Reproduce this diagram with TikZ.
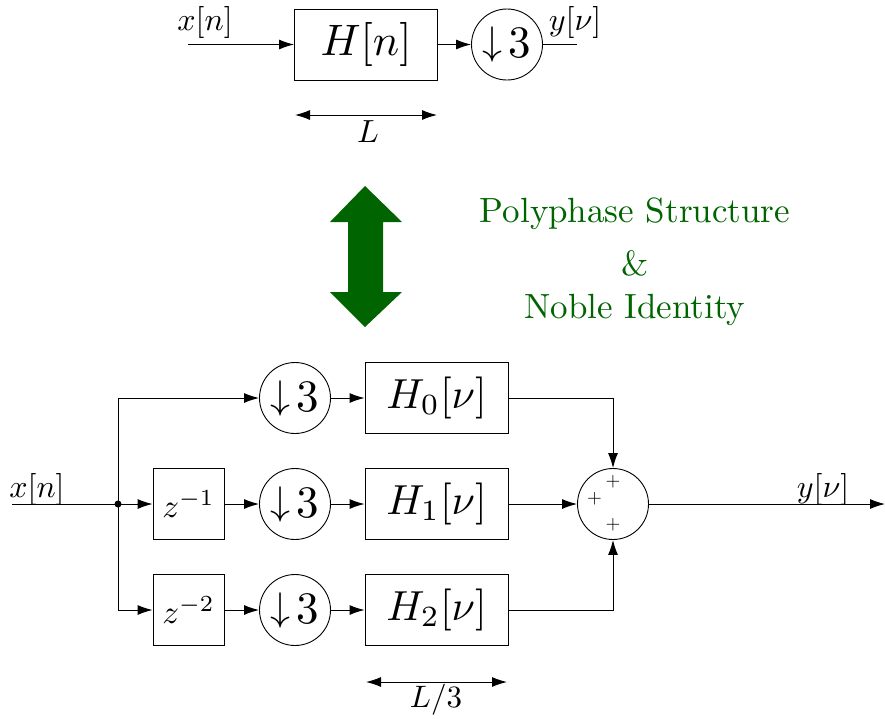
\documentclass[tikz,border=0pt]{standalone}
\usetikzlibrary{arrows.meta}
\definecolor{dkgreen}{RGB}{0,100,0}
\newcommand\sz[2]{\pgfmathsetmacro\szfac{#1/10}\scalebox{\szfac}{\fontsize{10}{12}\selectfont #2}}
\newcommand\dthree{\raisebox{3pt}{\sz{40}{$\downarrow$}}\hspace{6pt}\sz{45}{3}}
\begin{document}
\begin{tikzpicture}[x=1pt,y=-1pt, line width=1pt,
 >={Latex[length=15pt,width=10pt]},
 blk/.style={draw, rectangle, inner sep=0pt, line width=0.9pt},
 dwn/.style={draw, circle, minimum size=71pt, inner sep=0pt, line width=0.9pt},
 lbl/.style={anchor=base, inner sep=0pt}]
\useasboundingbox (0,0) rectangle (885,718);

% ---------- top structure
\node[blk, minimum width=143pt, minimum height=71pt] (H) at (366,44.5) {\sz{44}{$H[n]$}};
\node[dwn] (D) at (507,44.5) {\dthree};
\coordinate (in0) at (188,44.5);
\coordinate (out0) at (577,44.5);
\draw[->] (in0) -- (H);
\draw[->] (H) -- (D);
\draw (D) -- (out0);
\node[lbl] (xl0) at (205,30) {\sz{32}{$x[n]$}};
\node[lbl] (yl0) at (575,30) {\sz{32}{$y[\nu]$}};
\coordinate (La) at (295,115);
\coordinate (Lb) at (437,115);
\draw[<->] (La) -- (Lb);
\node[lbl] (Ll) at (368,142) {\sz{32}{$L$}};

% ---------- green arrow and text
\fill[dkgreen] (365,186) -- (402,222) -- (383,222) -- (383,292) -- (402,292)
  -- (365,327) -- (330,292) -- (348,292) -- (348,222) -- (330,222) -- cycle;
\node[lbl, text=dkgreen] (t1) at (635,222) {\sz{35}{Polyphase Structure}};
\node[lbl, text=dkgreen] (t2) at (635,275) {\sz{35}{\&}};
\node[lbl, text=dkgreen] (t3) at (635,318) {\sz{35}{Noble Identity}};

% ---------- bottom structure
\coordinate (xin) at (12,504);
\coordinate (J) at (118,504);
\coordinate (Jt) at (118,398);
\coordinate (Jb) at (118,610);
\node[blk, minimum width=71pt, minimum height=71pt] (Z1) at (188.5,504) {\sz{33}{$z^{-1}$}};
\node[blk, minimum width=71pt, minimum height=71pt] (Z2) at (188.5,610) {\sz{33}{$z^{-2}$}};
\node[dwn] (D0) at (295,398) {\dthree};
\node[dwn] (D1) at (295,504) {\dthree};
\node[dwn] (D2) at (295,610) {\dthree};
\node[blk, minimum width=143pt, minimum height=71pt] (H0) at (436.5,398) {\sz{42}{$H_0[\nu]$}};
\node[blk, minimum width=143pt, minimum height=71pt] (H1) at (436.5,504) {\sz{42}{$H_1[\nu]$}};
\node[blk, minimum width=143pt, minimum height=71pt] (H2) at (436.5,610) {\sz{42}{$H_2[\nu]$}};
\node[dwn] (S) at (613,504) {};
\node[inner sep=0pt] (p1) at (613,482) {\sz{19}{$+$}};
\node[inner sep=0pt] (p2) at (594.5,499) {\sz{19}{$+$}};
\node[inner sep=0pt] (p3) at (613,525) {\sz{19}{$+$}};
\coordinate (yout) at (885,504);

\draw (xin) -- (J);
\draw (Jt) -- (Jb);
\fill (J) circle (3.5pt);
\draw[->] (Jt) -- (D0);
\draw[->] (J) -- (Z1);
\draw[->] (Jb) -- (Z2);
\draw[->] (Z1) -- (D1);
\draw[->] (Z2) -- (D2);
\draw[->] (D0) -- (H0);
\draw[->] (D1) -- (H1);
\draw[->] (D2) -- (H2);
\draw[->] (H0.east) -| (S.north);
\draw[->] (H1) -- (S);
\draw[->] (H2.east) -| (S.south);
\draw[->] (S) -- (yout);

\node[lbl] (xl1) at (37,497) {\sz{32}{$x[n]$}};
\node[lbl] (yl1) at (823,497) {\sz{32}{$y[\nu]$}};

\coordinate (Ma) at (366,682);
\coordinate (Mb) at (507,682);
\draw[<->] (Ma) -- (Mb);
\node[lbl] (Ml) at (436,707) {\sz{31}{$L/3$}};
\end{tikzpicture}
\end{document}
